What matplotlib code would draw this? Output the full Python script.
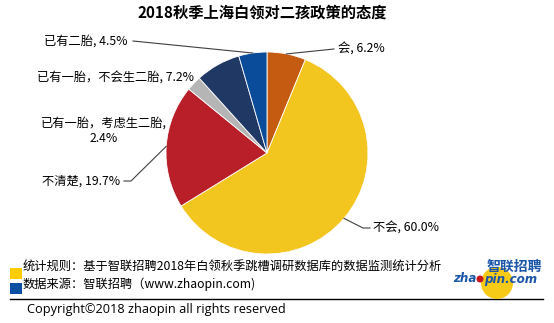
import numpy as np
import matplotlib
matplotlib.use("Agg")
from matplotlib import pyplot as plt
from matplotlib.patches import Circle, Rectangle

plt.rcParams['font.family'] = ['Noto Sans CJK SC', 'DejaVu Sans']

W, H = 554, 323

title = "2018秋季上海白领对二孩政策的态度"
categories = ["会", "不会", "不清楚", "已有一胎，考虑生二胎", "已有一胎，不会生二胎", "已有二胎"]
shares = [6.2, 60.0, 19.7, 2.4, 7.2, 4.5]
colors = ["#C55A11", "#F3C51F", "#B91F29", "#B5B5B5", "#203864", "#0A4C9A"]

note_rule = "统计规则：基于智联招聘2018年白领秋季跳槽调研数据库的数据监测统计分析"
note_source = "数据来源：智联招聘（www.zhaopin.com)"
copyright_txt = "Copyright©2018 zhaopin all rights reserved"

fig = plt.figure(figsize=(W / 100, H / 100), dpi=100)
ax = fig.add_axes([0, 0, 1, 1])


def Y(y):
    # pixel row measured from the top -> axes y
    return H - y


cx, cy, r = 267, Y(153), 101
wedges, _ = ax.pie(shares, colors=colors, startangle=90, counterclock=False,
                   center=(cx, cy), radius=r, frame=True,
                   wedgeprops=dict(edgecolor='white', linewidth=0.6))
ax.set_xlim(0, W)
ax.set_ylim(0, H)
ax.set_aspect('equal')
ax.axis('off')

ax.text(262, Y(13), title, ha='center', va='center', fontsize=11, fontweight='bold')

fs = 8.8


def edge_point(w):
    ang = np.deg2rad((w.theta1 + w.theta2) / 2.0)
    return cx + r * np.cos(ang), cy + r * np.sin(ang)


def label(i, x, y, ha, line_to=None, elbow=None):
    txt = "%s, %.1f%%" % (categories[i], shares[i])
    ax.text(x, Y(y), txt, ha=ha, va='center', fontsize=fs)
    if line_to is not None:
        ex, ey = edge_point(wedges[i])
        pts = [(ex, ey)]
        if elbow is not None:
            pts.append((elbow[0], Y(elbow[1])))
        pts.append((line_to[0], Y(line_to[1])))
        xs, ys = zip(*pts)
        ax.plot(xs, ys, color='#404040', lw=0.8)


label(0, 338, 49, 'left', line_to=(334, 49))
label(1, 373, 228, 'left', elbow=(363, 228), line_to=(370, 228))
label(2, 120, 181, 'right', elbow=(131, 181), line_to=(124, 181))
label(4, 194, 78, 'right')
label(5, 128, 41, 'right', line_to=(133, 41))
# two-line label for the small grey slice
ax.text(104, Y(123), categories[3] + ",", ha='center', va='center', fontsize=fs)
ax.text(104, Y(138), "%.1f%%" % shares[3], ha='center', va='center', fontsize=fs)

# footer notes
ax.add_patch(Rectangle((10, Y(279)), 12, 11, color='#FFCC00', lw=0))
ax.add_patch(Rectangle((10, Y(294)), 12, 11, color='#0B4EA2', lw=0))
ax.text(23, Y(266), note_rule, ha='left', va='center', fontsize=8.8)
ax.text(23, Y(284), note_source, ha='left', va='center', fontsize=8.8)
ax.plot([10, 543], [Y(299), Y(299)], color='black', lw=1.0)
ax.text(27, Y(309), copyright_txt, ha='left', va='center', fontsize=9.2,
        family=['Open Sans', 'DejaVu Sans'])

# zhaopin logo
blue = '#1A55A8'
ax.add_patch(Circle((497, Y(283)), 16, color='#F7CA18', lw=0, zorder=2))
ax.text(542, Y(267), "智联招聘", ha='right', va='center', fontsize=10,
        fontweight='bold', color=blue, zorder=3)
ax.text(476, Y(279), "zha", ha='right', va='center', fontsize=8.6,
        fontweight='bold', style='italic', color=blue, zorder=3, family=['DejaVu Sans'])
ax.text(484, Y(279), "pin.com", ha='left', va='center', fontsize=8.6,
        fontweight='bold', style='italic', color=blue, zorder=3, family=['DejaVu Sans'])
ax.add_patch(Circle((480, Y(279)), 3.5, color='#C8161D', lw=0, zorder=4))

fig.savefig("out.png", dpi=100)
